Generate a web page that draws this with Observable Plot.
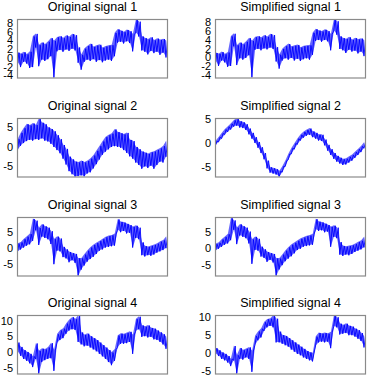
<!DOCTYPE html>
<html>
<head>
<meta charset="utf-8">
<script src="https://cdn.jsdelivr.net/npm/d3@7"></script>
<script src="https://cdn.jsdelivr.net/npm/@observablehq/plot@0.6"></script>
<style>
  html, body { margin: 0; padding: 0; background: #fff; }
  #chart { position: relative; width: 367px; height: 376px; overflow: hidden; background: #fff; }
  #chart svg { position: absolute; }
</style>
</head>
<body>
<div id="chart"></div>
<script>
// Titles
const titles = [
  "Original signal 1", "Simplified signal 1",
  "Original signal 2", "Simplified signal 2",
  "Original signal 3", "Simplified signal 3",
  "Original signal 4", "Simplified signal 4"
];

// Y tick labels per panel
const ticks1 = [-4, -2, 0, 2, 4, 6, 8];
const ticks2 = [-5, 0, 5];
const ticks3 = [-5, 0, 5];
const ticks4 = [-5, 0, 5, 10];

// Y extents (axis limits)
const yLim = [
  [-4.5, 8.9], [-4.5, 8.6],
  [-7.7, 7.3], [-7.0, 5.2],
  [-8.5, 9.8], [-8.3, 9.5],
  [-6.8, 11.8], [-5.8, 10.5]
];

// Signal envelopes: lower and upper values of the noisy trace, 50 steps each
const orig1Lo = [-1.0,-2.0,-0.8,-1.2,-2.2,-2.0,2.5,-1.8,-0.3,-0.6,-0.2,0.5,-4.5,1.6,1.9,1.5,2.0,1.7,2.2,1.8,-1.0,-2.6,-0.8,-0.3,-0.6,-0.2,-0.8,-0.4,-0.9,-0.5,-0.3,-0.6,0.5,3.6,3.8,3.4,3.9,3.5,1.6,5.8,5.0,1.8,1.5,0.9,1.7,1.2,1.5,0.8,1.3,0.2];
const orig1Hi = [1.3,1.0,1.4,0.9,1.5,5.0,5.6,3.0,3.6,3.2,3.8,4.6,4.0,4.8,5.0,4.6,5.2,4.9,5.5,5.3,2.5,0.8,2.2,2.8,3.3,2.6,2.9,3.1,2.4,2.7,2.9,3.0,5.8,6.6,6.3,6.0,6.5,6.2,5.5,8.9,8.4,5.0,4.6,4.3,4.8,4.1,4.5,4.2,4.4,4.0];

const simp1Lo = [-0.8,-1.8,-0.6,-1.0,-2.0,-1.8,2.6,-1.6,-0.1,-0.4,0.0,0.6,-4.4,1.8,2.0,1.7,2.1,1.9,2.3,2.0,-0.8,-2.4,-0.6,-0.1,-0.4,0.0,-0.6,-0.2,-0.7,-0.3,-0.1,-0.4,0.7,3.8,4.0,3.6,4.0,3.7,1.7,6.0,5.2,2.0,1.7,1.1,1.8,1.4,1.6,1.0,1.4,0.4];
const simp1Hi = [1.1,0.9,1.3,0.8,1.2,4.8,5.4,2.8,3.4,3.0,3.6,4.4,3.8,4.6,4.8,4.5,5.0,4.7,5.3,5.1,2.4,0.7,2.0,2.6,3.1,2.5,2.7,2.9,2.3,2.6,2.7,2.8,5.6,6.4,6.1,5.9,6.3,6.0,5.3,8.6,8.2,4.8,4.4,4.2,4.6,4.0,4.4,4.1,4.3,3.9];

const orig2Lo = [-0.8,0.3,1.0,1.5,1.8,1.6,2.0,1.8,2.2,1.6,1.4,0.8,0.0,-0.8,-1.6,-3.0,-4.5,-6.2,-7.0,-7.7,-7.5,-7.3,-7.6,-6.8,-6.5,-5.5,-4.4,-3.2,-2.0,-1.2,-0.6,0.0,0.2,0.0,-0.2,-0.8,-1.5,-2.4,-3.0,-4.0,-4.6,-5.6,-5.0,-5.4,-4.8,-5.6,-4.6,-3.8,-4.0,-2.5];
const orig2Hi = [2.0,3.6,4.8,5.8,5.5,6.0,5.6,7.3,6.2,5.8,5.0,4.6,4.0,3.0,2.0,0.5,-0.5,-2.5,-3.2,-3.8,-4.0,-3.6,-4.0,-3.6,-3.0,-2.2,-1.0,0.2,1.4,2.5,3.0,3.4,4.5,3.8,3.5,3.2,3.6,1.8,1.5,0.0,-0.6,-1.2,-1.5,-1.8,-1.4,-1.2,-0.8,-0.4,0.2,1.5];

const simp2Lo = [-0.4,0.3,1.0,1.8,2.4,2.9,3.5,3.7,3.3,3.2,2.8,1.9,1.0,0.1,-0.9,-2.0,-3.3,-5.2,-6.1,-6.3,-6.5,-7.0,-6.0,-4.8,-3.4,-2.2,-1.2,-0.2,0.6,1.2,1.6,1.8,1.3,1.0,0.6,0.5,-0.4,-1.5,-2.4,-3.2,-3.8,-4.2,-4.5,-4.4,-4.0,-3.6,-3.0,-2.4,-1.8,-1.0];
const simp2Hi = [0.5,1.3,2.1,2.9,3.5,4.1,4.8,5.2,4.6,4.4,4.0,3.1,2.2,1.3,0.3,-0.8,-2.0,-3.6,-5.0,-5.2,-5.4,-5.8,-4.8,-3.6,-2.2,-1.0,0.0,1.0,1.8,2.4,2.8,3.1,2.5,2.2,1.8,1.8,0.8,-0.3,-1.2,-2.0,-2.6,-3.0,-3.3,-3.2,-2.8,-2.4,-1.8,-1.2,-0.6,0.2];

const orig3Lo = [-0.9,-0.2,0.4,1.0,1.4,2.5,5.8,1.2,3.8,3.4,3.0,1.5,-4.8,-0.6,-0.8,-2.6,-3.0,-4.2,-3.6,-4.4,-8.5,-6.5,-5.2,-4.0,-3.2,-2.5,-1.6,-0.6,-0.2,0.4,0.6,0.8,1.0,5.8,5.2,5.6,4.8,5.0,0.4,3.4,3.0,-2.0,-2.4,-2.0,-2.2,-1.8,-1.2,-0.8,-0.4,0.2];
const orig3Hi = [1.6,2.0,3.0,3.8,4.6,9.3,8.8,6.5,7.6,7.0,6.6,5.5,3.0,3.8,3.2,0.6,-0.2,-1.0,-1.4,-1.6,-3.0,-3.0,-1.8,-0.6,0.4,1.2,1.8,2.4,3.0,3.6,4.0,4.2,4.6,9.2,8.4,8.2,7.8,7.4,6.8,7.2,6.6,2.0,0.8,0.6,0.9,1.2,1.6,2.2,2.6,3.8];

const simp3Lo = [-0.6,0.0,0.6,1.2,1.6,2.6,5.8,1.4,4.0,3.6,3.2,1.6,-4.6,-0.4,-0.6,-2.4,-2.8,-4.0,-3.4,-4.2,-8.3,-6.3,-5.0,-3.8,-3.0,-2.3,-1.4,-0.4,0.0,0.6,0.8,1.0,1.2,5.8,5.4,5.6,5.0,5.2,0.6,3.6,3.2,-1.8,-2.2,-1.8,-2.0,-1.6,-1.0,-0.6,-0.2,0.4];
const simp3Hi = [1.4,1.8,2.8,3.6,4.4,9.3,8.6,6.4,7.4,6.8,6.4,5.2,2.8,3.6,3.0,0.6,-0.2,-1.0,-1.4,-1.6,-3.0,-3.0,-1.8,-0.6,0.4,1.2,1.8,2.4,3.0,3.4,3.8,4.0,4.4,9.0,8.2,8.0,7.6,7.2,6.6,7.0,6.4,2.0,0.8,0.6,0.8,1.0,1.4,2.0,2.4,3.6];

const orig4Lo = [0.2,-1.0,-2.0,-2.6,-3.4,-4.6,-2.0,-6.8,-3.0,-2.4,-2.0,-1.8,-5.8,3.0,4.0,4.6,6.0,7.0,7.4,7.2,3.4,2.6,2.0,2.2,1.6,1.0,0.4,-0.4,-1.2,-2.0,-3.0,-4.0,-2.6,1.6,2.8,2.8,3.0,3.4,-0.4,6.8,7.4,5.0,5.2,4.8,5.0,4.2,4.0,3.4,2.6,1.2];
const orig4Hi = [3.2,1.8,0.8,0.2,-0.4,-1.2,2.9,0.5,1.2,1.0,1.6,3.0,0.8,5.8,7.0,7.6,9.2,10.4,11.2,10.6,11.8,6.4,5.6,6.0,5.2,4.6,4.0,3.2,2.4,1.6,0.8,0.0,1.0,5.4,6.0,5.8,6.2,6.6,5.6,10.6,11.4,8.6,8.2,8.6,7.8,7.6,7.0,6.4,5.8,5.0];

const simp4Lo = [-0.2,-0.8,-1.6,-2.0,-2.6,-3.6,-2.0,-5.8,-1.6,-1.8,-1.2,-1.6,-5.2,2.2,3.6,4.4,6.2,7.2,7.6,7.2,3.0,3.0,2.6,2.2,1.8,1.0,0.4,-0.2,-0.6,-1.2,-1.6,-2.0,-2.3,2.0,3.0,3.2,3.0,3.2,1.4,7.4,7.2,5.2,5.4,5.6,5.0,5.0,4.6,4.0,3.4,1.6];
const simp4Hi = [1.4,0.8,0.2,-0.2,-0.8,-1.6,2.0,-0.6,1.4,0.8,1.2,1.6,0.6,4.8,6.0,6.8,8.6,9.4,9.6,10.5,9.6,6.0,5.0,4.8,4.2,3.6,3.0,2.4,1.8,1.2,0.6,0.2,0.0,4.6,5.6,5.4,5.6,5.4,5.8,10.5,10.0,8.2,7.8,8.2,7.6,7.4,6.8,6.4,5.6,4.6];

const lows = [orig1Lo, simp1Lo, orig2Lo, simp2Lo, orig3Lo, simp3Lo, orig4Lo, simp4Lo];
const highs = [orig1Hi, simp1Hi, orig2Hi, simp2Hi, orig3Hi, simp3Hi, orig4Hi, simp4Hi];
const tickSets = [ticks1, ticks1, ticks2, ticks2, ticks3, ticks3, ticks4, ticks4];

// Layout
const rowTops = [19, 118, 217, 315];
const colDefs = [
  {left: 0, marginLeft: 17, width: 169},
  {left: 183, marginLeft: 32, width: 184}
];
const frameH = 58.5;

const chart = document.getElementById("chart");

for (let k = 0; k < 8; k++) {
  const row = Math.floor(k / 2), col = k % 2;
  const lo = lows[k], hi = highs[k];
  const trace = [];
  const band = [];
  for (let i = 0; i < lo.length; i++) {
    trace.push({x: i, y: lo[i]});
    trace.push({x: i + 0.5, y: hi[i]});
    band.push({x: i + 0.25, lo: lo[i], hi: hi[i]});
  }
  const c = colDefs[col];
  const marginTop = 19;
  const height = marginTop + frameH + 2.5;
  const svg = Plot.plot({
    width: c.width,
    height,
    marginLeft: c.marginLeft,
    marginRight: c.width - c.marginLeft - 150,
    marginTop,
    marginBottom: height - marginTop - frameH,
    x: {domain: [0, lo.length - 0.5], axis: null},
    y: {domain: yLim[k], ticks: tickSets[k], tickSize: 0, tickPadding: 4.5, label: null, tickFormat: d => String(d)},
    style: {fontFamily: "'Liberation Sans', Arial, sans-serif", fontSize: "11px", color: "#000", background: "transparent", overflow: "visible"},
    marks: [
      Plot.areaY(band, {x: "x", y1: "lo", y2: "hi", fill: "#0000ff", fillOpacity: 0.6, clip: true}),
      Plot.line(trace, {x: "x", y: "y", stroke: "#0000ff", strokeWidth: 0.9, clip: true}),
      Plot.frame({stroke: "#8a8a8a", strokeWidth: 1.2}),
      Plot.text([titles[k]], {frameAnchor: "top", lineAnchor: "bottom", dy: -9, fontSize: 12.5, text: d => d, fill: "#000"})
    ]
  });
  svg.style.left = c.left + "px";
  svg.style.top = (rowTops[row] - marginTop) + "px";
  chart.appendChild(svg);
}
</script>
</body>
</html>
